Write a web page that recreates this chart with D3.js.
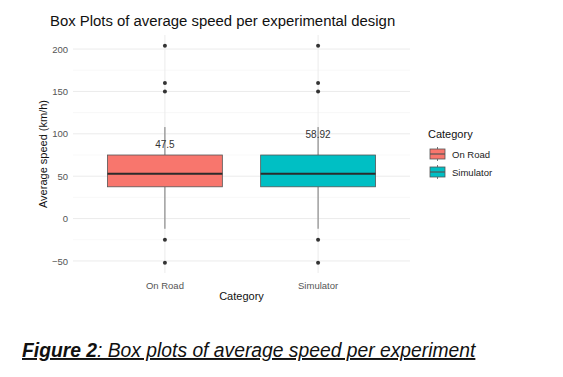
<!DOCTYPE html>
<html>
<head>
<meta charset="utf-8">
<script src="https://cdn.jsdelivr.net/npm/d3@7"></script>
<style>
  body { margin: 0; background: #fff; }
  svg { display: block; font-family: "Liberation Sans", Arial, sans-serif; }
</style>
</head>
<body>
<svg id="chart"></svg>
<script>
const svg_w = 563;
const svg_h = 377;

// datos del gráfico
const categories = ["On Road", "Simulator"];
const colors = ["#F8766D", "#00BFC4"];
const q1 = [37.5, 37.5];
const medians = [53, 53];
const q3 = [75, 75];
const whisk_lo = [-12, -12];
const whisk_hi = [108, 108];
const outliers = [[204, 160, 150, -25, -52], [204, 160, 150, -25, -52]];
const means = [47.5, 58.92];
const mean_labels = ["47.5", "58.92"];
const y_ticks = [-50, 0, 50, 100, 150, 200];

// márgenes del panel
const margin = {l:73, r:153, t:35, b:104};
const viz_w = svg_w - margin.l - margin.r;
const viz_h = svg_h - margin.t - margin.b;

let svg = d3.select("#chart")
  .attr("width", svg_w)
  .attr("height", svg_h)

// escala discreta con expansión tipo ggplot (0.6 a cada lado)
let x_scale = d3.scaleLinear().domain([0.4, 2.6]).range([0, viz_w]);
const xc = (i) => x_scale(i + 1);
const band = x_scale(1.75) - x_scale(1);

let y_scale = d3.scaleLinear()
  .domain([-64.2, 216.6])
  .range([viz_h, 0])

let g = svg.append("g")
  .attr("transform", `translate(${margin.l},${margin.t})`)

// rejilla menor
let minor = d3.range(-25, 200, 50);
g.selectAll(".minor")
  .data(minor)
  .enter()
  .append("line")
  .attr("x1", 0).attr("x2", viz_w)
  .attr("y1", d => y_scale(d)).attr("y2", d => y_scale(d))
  .attr("stroke", "#f3f3f3")
  .attr("stroke-width", 0.6)

// rejilla mayor
g.selectAll(".major")
  .data(y_ticks)
  .enter()
  .append("line")
  .attr("x1", 0).attr("x2", viz_w)
  .attr("y1", d => y_scale(d)).attr("y2", d => y_scale(d))
  .attr("stroke", "#ebebeb")
  .attr("stroke-width", 1)

g.selectAll(".vmajor")
  .data(categories)
  .enter()
  .append("line")
  .attr("x1", (d, i) => xc(i)).attr("x2", (d, i) => xc(i))
  .attr("y1", 0).attr("y2", viz_h)
  .attr("stroke", "#ebebeb")
  .attr("stroke-width", 1)

// ejes (solo etiquetas)
let y_axis = g.append("g")
  .call(d3.axisLeft(y_scale).tickValues(y_ticks).tickSize(0).tickPadding(5))
y_axis.select(".domain").remove()
y_axis.selectAll("text")
  .attr("fill", "#555")
  .style("font-size", "9.5px")
  .style("font-family", "Liberation Sans, Arial, sans-serif")

g.selectAll(".xlab")
  .data(categories)
  .enter()
  .append("text")
  .attr("x", (d, i) => xc(i))
  .attr("y", viz_h + 16)
  .attr("text-anchor", "middle")
  .attr("fill", "#555")
  .style("font-size", "9.5px")
  .text(d => d)

// cajas
let boxes = g.selectAll(".box")
  .data(categories)
  .enter()
  .append("g")

boxes.append("line")
  .attr("x1", (d, i) => xc(i)).attr("x2", (d, i) => xc(i))
  .attr("y1", (d, i) => y_scale(q3[i])).attr("y2", (d, i) => y_scale(whisk_hi[i]))
  .attr("stroke", "#777").attr("stroke-width", 1)

boxes.append("line")
  .attr("x1", (d, i) => xc(i)).attr("x2", (d, i) => xc(i))
  .attr("y1", (d, i) => y_scale(q1[i])).attr("y2", (d, i) => y_scale(whisk_lo[i]))
  .attr("stroke", "#777").attr("stroke-width", 1)

boxes.append("rect")
  .attr("x", (d, i) => xc(i) - band / 2)
  .attr("width", band)
  .attr("y", (d, i) => y_scale(q3[i]))
  .attr("height", (d, i) => y_scale(q1[i]) - y_scale(q3[i]))
  .attr("fill", (d, i) => colors[i])
  .attr("stroke", "#555")
  .attr("stroke-width", 0.8)

boxes.append("line")
  .attr("x1", (d, i) => xc(i) - band / 2).attr("x2", (d, i) => xc(i) + band / 2)
  .attr("y1", (d, i) => y_scale(medians[i])).attr("y2", (d, i) => y_scale(medians[i]))
  .attr("stroke", "#2b2b2b").attr("stroke-width", 2)

boxes.each(function(d, i) {
  d3.select(this).selectAll("circle")
    .data(outliers[i])
    .enter()
    .append("circle")
    .attr("cx", xc(i))
    .attr("cy", v => y_scale(v))
    .attr("r", 2)
    .attr("fill", "#333")
})

// etiquetas de la media (media + 40)
boxes.append("text")
  .attr("x", (d, i) => xc(i))
  .attr("y", (d, i) => y_scale(means[i] + 40) + 3.5)
  .attr("text-anchor", "middle")
  .attr("fill", "#333")
  .style("font-size", "10px")
  .text((d, i) => mean_labels[i])

// títulos
svg.append("text")
  .attr("x", 50)
  .attr("y", 26)
  .style("font-size", "14.9px")
  .attr("fill", "#111")
  .text("Box Plots of average speed per experimental design")

svg.append("text")
  .attr("transform", `translate(47,${margin.t + viz_h / 2}) rotate(-90)`)
  .attr("text-anchor", "middle")
  .style("font-size", "11px")
  .attr("fill", "#111")
  .text("Average speed (km/h)")

svg.append("text")
  .attr("x", margin.l + viz_w / 2)
  .attr("y", 300)
  .attr("text-anchor", "middle")
  .style("font-size", "11px")
  .attr("fill", "#111")
  .text("Category")

// leyenda
let legend = svg.append("g").attr("transform", "translate(428,0)")
legend.append("text")
  .attr("x", 0).attr("y", 138)
  .style("font-size", "11px")
  .attr("fill", "#111")
  .text("Category")

let keys = legend.selectAll(".key")
  .data(categories)
  .enter()
  .append("g")
  .attr("transform", (d, i) => `translate(2,${149 + i * 18})`)

keys.append("line")
  .attr("x1", 7.5).attr("x2", 7.5).attr("y1", -2).attr("y2", 12)
  .attr("stroke", "#555").attr("stroke-width", 0.8)
keys.append("rect")
  .attr("width", 15).attr("height", 10)
  .attr("fill", (d, i) => colors[i])
  .attr("stroke", "#555").attr("stroke-width", 0.8)
keys.append("line")
  .attr("x1", 0).attr("x2", 15).attr("y1", 5).attr("y2", 5)
  .attr("stroke", "#555").attr("stroke-width", 1.2)
keys.append("text")
  .attr("x", 22).attr("y", 8.5)
  .style("font-size", "9.5px")
  .attr("fill", "#222")
  .text(d => d)

// pie de figura
let cap = svg.append("text")
  .attr("x", 22)
  .attr("y", 357)
  .style("font-size", "19.3px")
  .style("font-style", "italic")
  .style("text-decoration", "underline")
  .attr("fill", "#111")
cap.append("tspan").style("font-weight", "bold").text("Figure 2")
cap.append("tspan").text(": Box plots of average speed per experiment")
</script>
</body>
</html>
